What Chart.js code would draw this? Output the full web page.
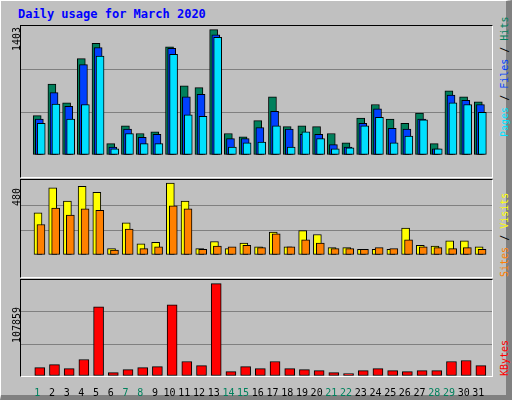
<!DOCTYPE html>
<html><head><meta charset="utf-8">
<script src="https://cdn.jsdelivr.net/npm/chart.js@4"></script>
<style>
body{margin:0;background:#c0c0c0}
#frame{position:absolute;left:0;top:0;width:505px;height:394px;background:#c0c0c0;border-left:1px solid #fff;border-top:1px solid #fff;border-right:6px solid #808080;border-bottom:5px solid #808080}
.panel{position:absolute;border-top:1px solid #000;border-left:1px solid #000;border-right:1px solid #fff;border-bottom:1px solid #fff}
canvas{position:absolute;left:0;top:0}
.rot{position:absolute;transform:rotate(-90deg);transform-origin:0 0;font:10px "DejaVu Sans Mono";white-space:nowrap;line-height:9px}
#title{position:absolute;left:18px;top:7px;font:bold 12px "DejaVu Sans Mono";color:#0000ff}
</style></head><body>
<div id="frame"></div>
<div id="title">Daily usage for March 2020</div>
<div class="panel" style="left:20px;top:25px;width:471px;height:151px"><canvas id="c1"></canvas></div>
<div class="panel" style="left:20px;top:179px;width:471px;height:97px"><canvas id="c2"></canvas></div>
<div class="panel" style="left:20px;top:279px;width:471px;height:96px"><canvas id="c3"></canvas></div>
<div class="rot" style="left:12px;top:51px;color:#000">1403</div>
<div class="rot" style="left:12px;top:206px;color:#000">480</div>
<div class="rot" style="left:12px;top:343px;color:#000">107859</div>
<div class="rot" style="left:500px;top:137px"><span style="color:#00e0ff">Pages</span> / <span style="color:#0040ff">Files</span> / <span style="color:#00805c">Hits</span></div>
<div class="rot" style="left:500px;top:277px"><span style="color:#ff8000">Sites</span> / <span style="color:#ffff00">Visits</span></div>
<div class="rot" style="left:500px;top:376px;color:#ff0000">KBytes</div>
<script>
const days=[1,2,3,4,5,6,7,8,9,10,11,12,13,14,15,16,17,18,19,20,21,22,23,24,25,26,27,28,29,30,31];
const weekend=[1,7,8,14,15,21,22,28,29];
const hits=[441,794,584,1079,1250,127,327,241,260,1212,774,755,1403,241,203,384,651,317,327,317,241,136,413,565,403,355,470,127,717,651,594];
const files=[403,698,546,1012,1203,89,289,197,232,1193,651,679,1346,184,184,308,489,289,232,232,117,89,355,517,298,289,403,70,670,613,565];
const pages=[355,571,403,565,1108,70,241,127,127,1127,451,432,1317,89,136,146,327,89,260,184,70,79,327,422,136,213,394,70,584,565,479];
const visits=[282,449,360,459,418,43,215,75,85,480,360,43,90,43,80,54,153,54,163,137,49,49,38,38,38,179,64,59,95,95,54];
const sites=[204,314,267,308,298,33,173,43,54,329,308,38,59,54,64,49,142,54,101,80,43,43,38,49,43,101,54,49,43,49,38];
const kbytes=[9840,13380,8660,19290,80690,3940,7480,9840,11020,83050,16930,12200,107859,5120,11020,8660,16930,8660,7480,6300,3940,2760,6300,8660,6300,5120,6300,6300,16930,18110,12200];

function ds(vals,off,color,w,order){
  return {data:vals.map((v,i)=>({x:days[i]+off,y:v})),backgroundColor:color,borderColor:'#000',borderWidth:1,barThickness:w,order:order,borderSkipped:false,grouped:false};
}
function make(id,w,h,datasets,ymax,showX){
  const c=document.getElementById(id);c.width=w;c.height=h;
  new Chart(c,{type:'bar',data:{datasets},options:{
    responsive:false,animation:false,devicePixelRatio:1,
    layout:{padding:0},
    datasets:{bar:{grouped:false}},
    plugins:{legend:{display:false},tooltip:{enabled:false}},
    scales:{
      x:{type:'linear',min:0.5,max:31.5,display:showX,grid:{display:false},border:{display:false},
        afterBuildTicks:s=>{s.ticks=days.map(d=>({value:d+0.09}))},
        afterFit:s=>{s.height=22},
        ticks:{autoSkip:false,maxRotation:0,padding:3,font:{family:'DejaVu Sans Mono',size:10},
          callback:(v)=>String(Math.round(v)),
          color:(ctx)=>weekend.includes(Math.round(ctx.tick.value))?'#00805c':'#000'}},
      y:{min:0,max:ymax,afterFit:s=>{s.width=0},border:{display:false},
        afterBuildTicks:s=>{s.ticks=[0,1,2,3].map(k=>({value:ymax*k/3}))},
        ticks:{display:false},
        grid:{drawTicks:false,lineWidth:1,color:(ctx)=>(ctx.index===1||ctx.index===2)?'#808080':'rgba(0,0,0,0)'}}
    }}});
}
make('c1',471,151,[ds(hits,0.085,'#00805c',8,3),ds(files,0.23,'#0040ff',8,2),ds(pages,0.36,'#00e0ff',8,1)],1444,false);
make('c2',471,97,[ds(visits,0.14,'#ffff00',8,2),ds(sites,0.34,'#ff8000',8,1)],501,false);
make('c3',471,118,[ds(kbytes,0.26,'#ff0000',10,1)],112180,true);
</script></body></html>
